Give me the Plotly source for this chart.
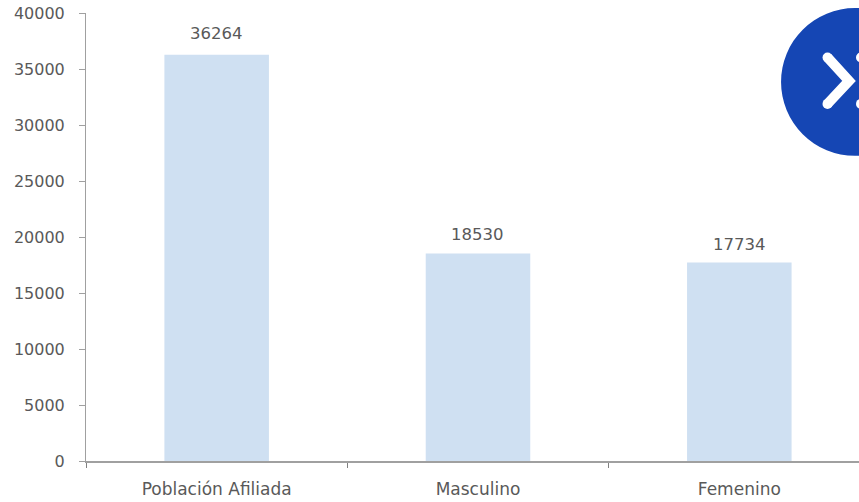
import plotly.graph_objects as go

categories = ["Población Afiliada", "Masculino", "Femenino"]
values = [36264, 18530, 17734]
y_ticks = [0, 5000, 10000, 15000, 20000, 25000, 30000, 35000, 40000]
label_offsets = [21, 19, 18]

W, H = 859, 502
L, T, B = 85.5, 13, 461.5
TEXT = "#595959"
FONT = "DejaVu Sans"
AXIS = "#a0a0a0"
BLUE = "#1546b4"


def px(x):
    return (x - L) / (W - L)


def py(y):
    return (B - y) / (B - T)


def path(points):
    return "M " + " L ".join(f"{px(x):.5f},{py(y):.5f}" for x, y in points)


def disc(cx, cy, r, color):
    return dict(type="circle", xref="paper", yref="paper",
                x0=px(cx - r), x1=px(cx + r), y0=py(cy + r), y1=py(cy - r),
                fillcolor=color, line=dict(width=0), layer="above")


fig = go.Figure(
    go.Bar(
        x=categories,
        y=values,
        width=0.4,
        marker=dict(color="#cfe0f2", line=dict(width=0)),
        cliponaxis=False,
    )
)

for cat, val, off in zip(categories, values, label_offsets):
    fig.add_annotation(
        x=cat, y=val, text=str(val), showarrow=False, yanchor="middle", yshift=off,
        font=dict(family=FONT, size=16.5, color=TEXT),
    )

fig.update_layout(
    width=W,
    height=H,
    margin=dict(l=L, r=0, t=T, b=H - B, pad=0),
    paper_bgcolor="white",
    plot_bgcolor="white",
    showlegend=False,
    font=dict(family=FONT, color=TEXT, size=16),
    xaxis=dict(
        type="category",
        range=[-0.5, 2.458],
        tickson="boundaries",
        ticks="outside",
        ticklen=5,
        tickcolor="#808080",
        tickwidth=1,
        ticklabelstandoff=12,
        ticklabeloverflow="allow",
        showline=True,
        linecolor=AXIS,
        linewidth=2,
        showgrid=False,
        zeroline=False,
        tickfont=dict(family=FONT, size=17, color=TEXT),
    ),
    yaxis=dict(
        range=[0, 40000],
        tickvals=y_ticks,
        ticktext=[str(v) for v in y_ticks],
        ticks="outside",
        ticklen=6,
        tickcolor=AXIS,
        tickwidth=1,
        ticklabelstandoff=11,
        ticklabeloverflow="allow",
        showline=True,
        linecolor=AXIS,
        linewidth=1,
        showgrid=False,
        zeroline=False,
        tickfont=dict(family=FONT, size=16, color=TEXT),
    ),
    shapes=[
        disc(855, 82, 74, BLUE),
        dict(type="path", xref="paper", yref="paper",
             path=path([(827.5, 57.5), (849, 81), (827.5, 104)]),
             line=dict(color="white", width=10), layer="above"),
        disc(827.5, 57.5, 5, "white"),
        disc(827.5, 104, 5, "white"),
        disc(861, 57.5, 5, "white"),
        disc(861, 104, 5, "white"),
    ],
)

fig.write_html(
    "out.html",
    config={"displayModeBar": False},
    post_script="document.body.style.margin='0';",
)
